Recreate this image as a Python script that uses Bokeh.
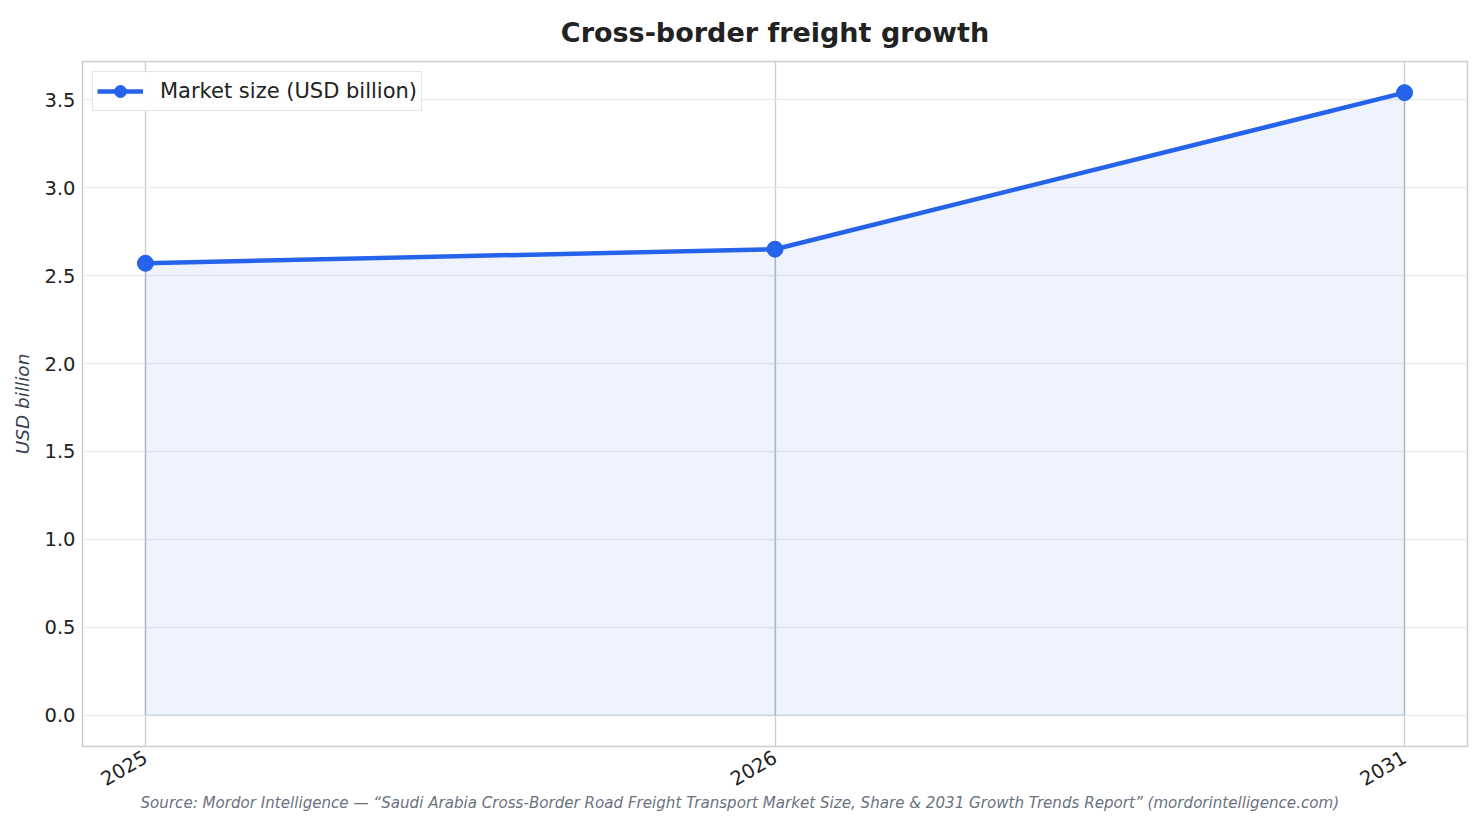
import math
from bokeh.plotting import figure
from bokeh.models import (ColumnDataSource, FixedTicker, Legend, LegendItem, Title,
                          Range1d, NumeralTickFormatter)
from bokeh.embed import file_html
from bokeh.resources import INLINE

years = ["2025", "2026", "2031"]
market_size = [2.57, 2.65, 3.54]
y_ticks = [0.0, 0.5, 1.0, 1.5, 2.0, 2.5, 3.0, 3.5]

title_text = "Cross-border freight growth"
y_label = "USD billion"
series_label = "Market size (USD billion)"
source_text = ("Source: Mordor Intelligence \u2014 \u201cSaudi Arabia Cross-Border Road Freight "
               "Transport Market Size, Share & 2031 Growth Trends Report\u201d (mordorintelligence.com)")

FONT = "DejaVu Sans"
BLUE = "#2563eb"

xs = list(range(len(years)))
src = ColumnDataSource(dict(x=xs, y=market_size, zero=[0.0] * len(xs)))

p = figure(width=1482, height=824, output_backend="svg", toolbar_location=None,
           x_range=Range1d(-0.1, len(years) - 0.9), y_range=Range1d(-0.177, 3.717),
           min_border_left=82, min_border_right=15, min_border_top=61, min_border_bottom=78)

p.title.text = title_text
p.title.align = "center"
p.title.text_font = FONT
p.title.text_font_size = "27px"
p.title.text_font_style = "bold"
p.title.text_color = "#222222"
p.title.standoff = 28

p.outline_line_color = "#cccccc"
p.outline_line_width = 1.5

p.xaxis.ticker = FixedTicker(ticks=xs)
p.xaxis.major_label_overrides = {i: y for i, y in enumerate(years)}
p.xaxis.major_label_orientation = math.pi / 6
p.yaxis.ticker = FixedTicker(ticks=y_ticks)
p.yaxis.formatter = NumeralTickFormatter(format="0.0")
for ax in (p.xaxis, p.yaxis):
    ax.axis_line_color = None
    ax.major_tick_line_color = None
    ax.minor_tick_line_color = None
    ax.major_tick_out = 0
    ax.major_label_text_font = FONT
    ax.major_label_text_font_size = "19.5px"
    ax.major_label_text_color = "#222222"
p.yaxis.major_label_standoff = 7
p.xaxis.major_label_standoff = 9

p.yaxis.axis_label = y_label
p.yaxis.axis_label_text_font = FONT
p.yaxis.axis_label_text_font_size = "18.5px"
p.yaxis.axis_label_text_font_style = "italic"
p.yaxis.axis_label_text_color = "#374151"
p.yaxis.axis_label_standoff = 8

p.xgrid.grid_line_color = "#cccccc"
p.xgrid.grid_line_width = 1.3
p.ygrid.grid_line_color = "#ebebeb"
p.ygrid.grid_line_width = 1.3

p.varea(x="x", y1="zero", y2="y", source=src, fill_color=BLUE, fill_alpha=0.08)
p.line(x="x", y="zero", source=src, line_color="#64748b", line_alpha=0.15, line_width=1.5)
p.segment(x0="x", y0="zero", x1="x", y1="y", source=src, line_color="#64748b",
          line_alpha=0.25, line_width=1.5)
ln = p.line(x="x", y="y", source=src, line_color=BLUE, line_width=4.5)
sc = p.scatter(x="x", y="y", source=src, size=16, fill_color=BLUE, line_color=BLUE)

legend = Legend(items=[LegendItem(label=series_label, renderers=[ln, sc])],
                location="top_left")
legend.label_text_font = FONT
legend.label_text_font_size = "21px"
legend.label_text_color = "#222222"
legend.border_line_color = "#cccccc"
legend.border_line_width = 1.5
legend.glyph_width = 46
legend.glyph_height = 30
legend.label_height = 30
legend.label_standoff = 17
legend.padding = 4
legend.margin = 10
legend.spacing = 0
p.add_layout(legend)

src_title = Title(text=source_text, align="left", offset=58, text_font=FONT,
                  text_font_size="15.1px", text_font_style="italic", text_color="#6b7280",
                  standoff=-7)
p.add_layout(src_title, "below")

open("out.html", "w").write(file_html(p, INLINE))
